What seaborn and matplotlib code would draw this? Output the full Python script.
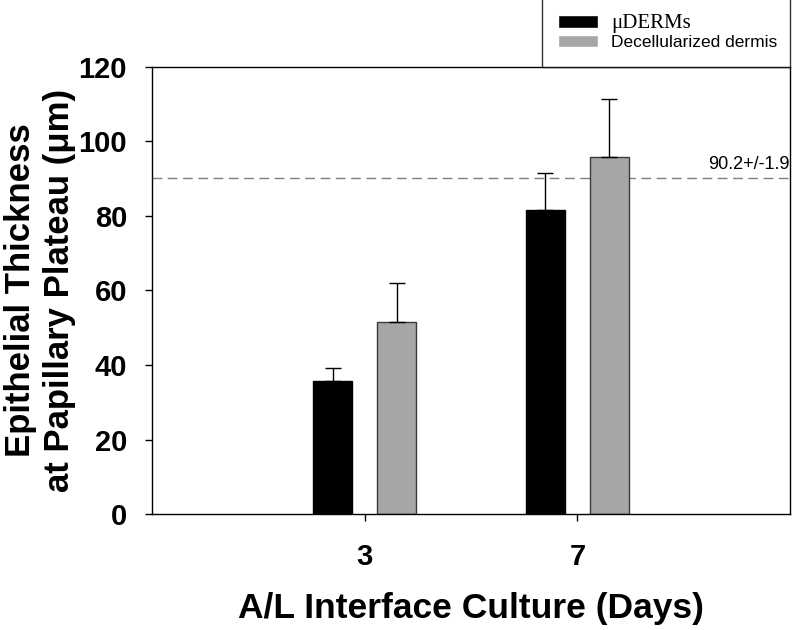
import numpy as np
import pandas as pd
import matplotlib
matplotlib.use("Agg")
import matplotlib.pyplot as plt
import seaborn as sns

days = ["3", "7"]
groups = ["\u03bcDERMs", "Decellularized dermis"]
uderms_mean = [35.8, 81.6]
uderms_err = [3.5, 9.9]
decell_mean = [51.4, 95.8]
decell_err = [10.7, 15.6]
ref_value = 90.2
ref_label = "90.2+/-1.9"

df = pd.DataFrame({
    "day": days * 2,
    "group": [groups[0]] * 2 + [groups[1]] * 2,
    "value": uderms_mean + decell_mean,
})
errs = [uderms_err, decell_err]

sns.set_theme(style="white")
plt.rcParams["font.family"] = ["Liberation Sans", "DejaVu Sans"]
plt.rcParams["text.color"] = "black"
plt.rcParams["axes.labelcolor"] = "black"
plt.rcParams["xtick.color"] = "black"
plt.rcParams["ytick.color"] = "black"

fig = plt.figure(figsize=(7.92, 6.3), dpi=100)
ax = fig.add_axes([0.192, 0.184, 0.8055, 0.71])

palette = {groups[0]: "#000000", groups[1]: "#A6A6A6"}
sns.barplot(data=df, x="day", y="value", hue="group", order=days,
            hue_order=groups, palette=palette, width=0.6, gap=0.387,
            errorbar=None, ax=ax, saturation=1)

edgecols = ["#000000", "#3a3a3a"]
for cont, ec, err in zip(ax.containers, edgecols, errs):
    for bar, e in zip(cont, err):
        bar.set_edgecolor(ec)
        bar.set_linewidth(1.0)
        cx = bar.get_x() + bar.get_width() / 2
        h = bar.get_height()
        ax.errorbar([cx], [h], yerr=[[0], [e]], fmt="none", ecolor="black",
                    elinewidth=1.0, capsize=6, capthick=1.0, zorder=1)

ax.axhline(ref_value, color="#7f7f7f", lw=1.0, ls=(0, (7, 4)), zorder=0.5)
ax.text(1.0, ref_value + 1.3, ref_label, transform=ax.get_yaxis_transform(),
        ha="right", va="bottom", fontsize=13, color="black", clip_on=True)

ax.set_xlim(-1.0, 2.0)
ax.set_ylim(0, 120)
ax.set_yticks([0, 20, 40, 60, 80, 100, 120])

for s in ax.spines.values():
    s.set_visible(True)
    s.set_color("black")
    s.set_linewidth(1.0)

ax.tick_params(axis="both", which="major", direction="out", length=5,
               width=1, color="black", labelcolor="black", bottom=True, left=True)
ax.tick_params(axis="y", pad=13, labelsize=21)
ax.tick_params(axis="x", pad=16, labelsize=21)
for lab in ax.get_xticklabels() + ax.get_yticklabels():
    lab.set_fontweight("bold")

ax.set_xlabel("A/L Interface Culture (Days)", fontsize=25.5, fontweight="bold",
              labelpad=15, color="black")
ax.set_ylabel("Epithelial Thickness\nat Papillary Plateau (\u03bcm)", fontsize=25,
              fontweight="bold", labelpad=2, linespacing=1.2, color="black")

handles, labels = ax.get_legend_handles_labels()
if ax.get_legend() is not None:
    ax.get_legend().remove()
leg = fig.legend(handles, labels, loc="lower left",
                 bbox_to_anchor=(0.684, 0.894, 0.314, 0.12), mode="expand",
                 bbox_transform=fig.transFigure, frameon=True, fancybox=False,
                 fontsize=12.5, handlelength=2.3, handleheight=0.7,
                 borderpad=0.95, labelspacing=0.15, handletextpad=0.75,
                 borderaxespad=0, labelcolor="black")
leg.get_frame().set_edgecolor("black")
leg.get_frame().set_linewidth(1.0)
t0 = leg.get_texts()[0]
t0.set_fontfamily(["Liberation Serif", "DejaVu Serif"])
t0.set_fontsize(15)

fig.savefig("out.png", dpi=100, facecolor="white")
